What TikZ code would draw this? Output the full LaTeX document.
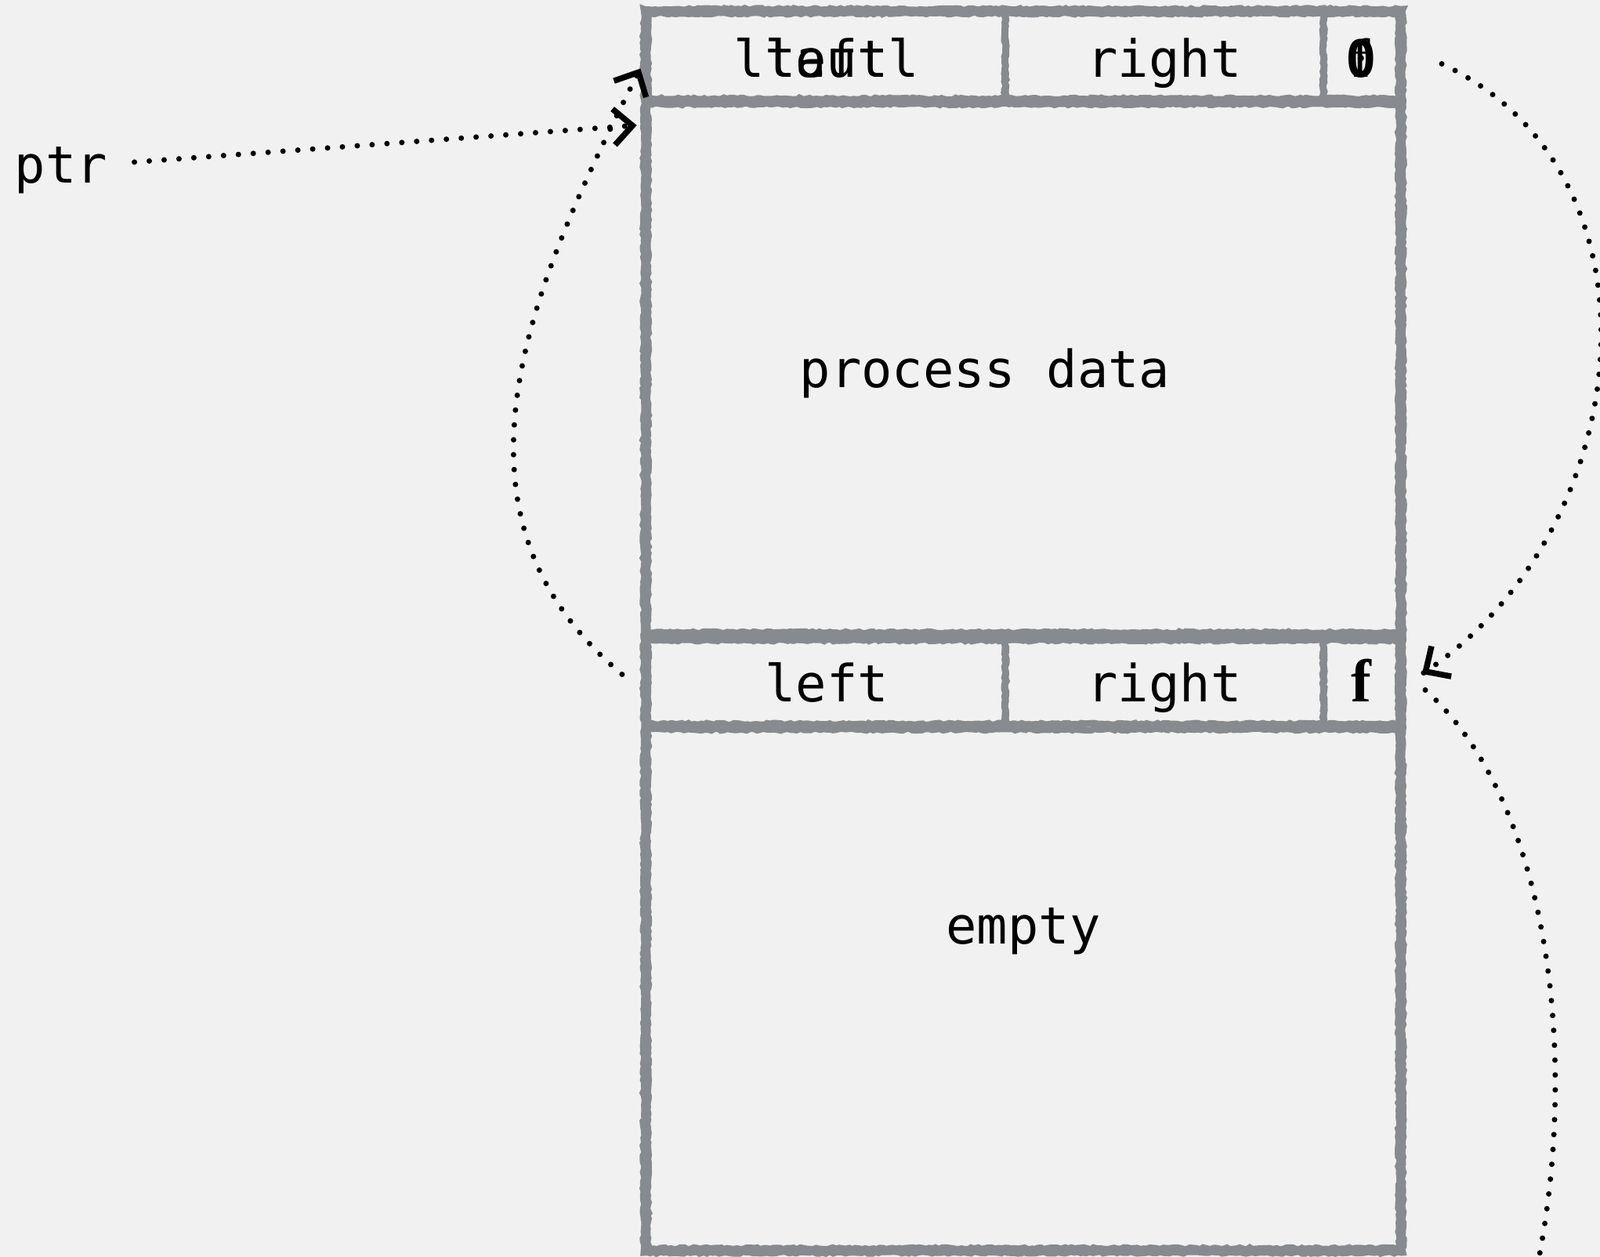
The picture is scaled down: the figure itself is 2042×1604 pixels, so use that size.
\documentclass[tikz,border=0pt]{standalone}
\usepackage{fontspec}
\setmainfont{Liberation Serif}
\setmonofont{DejaVu Sans Mono}
\usetikzlibrary{arrows.meta, decorations.pathmorphing, decorations.markings}
\definecolor{chalk}{HTML}{878A8E}
\definecolor{paper}{HTML}{F1F1F1}
\tikzset{
	block/.style={draw=chalk, line width=0.085cm, inner sep=0pt, outer sep=0pt,
		decorate, decoration={random steps, segment length=1.2pt, amplitude=0.35pt}},
	lbl/.style={font=\ttfamily\fontsize{18.6}{22}\selectfont, anchor=base, inner sep=0pt},
	flag/.style={font=\bfseries\fontsize{22}{24}\selectfont, anchor=base, inner sep=0pt},
	link/.style={line width=0.07cm, line cap=round, dash pattern=on 0pt off 0.19cm},
	tipped/.style={postaction={decorate, decoration={markings, mark=at position -0.3pt with
		{\pgfsetdash{}{0pt}\arrow{Straight Barb[length=0.24cm, width=0.46cm, line width=0.075cm]}}}}}
}

\begin{document}
\begin{tikzpicture}[x=0.01cm, y=0.01cm]
		\useasboundingbox (0,0) rectangle (2042,-1604);
		\clip (0,0) rectangle (2042,-1604);
		\fill[paper] (0,0) rectangle (2042,-1604);
		
		% outer frames
		\node[block, minimum width=9.68cm, minimum height=8cm] (frmA) at (1306,-412) {};
		\node[block, minimum width=9.68cm, minimum height=7.86cm] (frmB) at (1306,-1205) {};
		
		% first chunk
		\node[block, minimum width=4.56cm, minimum height=1.09cm] (lA) at (1055,-71.5) {};
		\node[block, minimum width=4.06cm, minimum height=1.09cm] (rA) at (1486,-71.5) {};
		\node[block, minimum width=0.96cm, minimum height=1.09cm] (fA) at (1737,-71.5) {};
		\node[block, minimum width=9.58cm, minimum height=6.74cm] (bodyA) at (1306,-470) {};
		
		\node[lbl] at ([yshift=-0.27cm]lA) {left};
		\node[lbl] at ([yshift=-0.27cm]lA) {ltautl};
		\node[lbl] at ([yshift=-0.27cm]rA) {right};
		\node[flag, font=\fontsize{20}{24}\selectfont] at ([yshift=-0.27cm]fA) {f};
		\node[lbl, font=\ttfamily\bfseries\fontsize{18.6}{22}\selectfont] at ([yshift=-0.27cm]fA) {0};
		\node[lbl] at ([shift={(-49,-25)}]bodyA) {process data};
		
		% second chunk
		\node[block, minimum width=4.56cm, minimum height=1.07cm] (lB) at (1055,-870.5) {};
		\node[block, minimum width=4.06cm, minimum height=1.07cm] (rB) at (1486,-870.5) {};
		\node[block, minimum width=0.96cm, minimum height=1.07cm] (fB) at (1737,-870.5) {};
		\node[block, minimum width=9.58cm, minimum height=6.62cm] (bodyB) at (1306,-1262) {};
		
		\node[lbl] at ([yshift=-0.25cm]lB) {left};
		\node[lbl] at ([yshift=-0.25cm]rB) {right};
		\node[flag] at ([yshift=-0.25cm]fB) {f};
		\node[lbl] at ([shift={(0,57)}]bodyB) {empty};
		
		\node[lbl, anchor=base west] (ptr) at (18,-234) {ptr};
		\coordinate (offB) at (1910,-1790);
		
		\draw[link, tipped] ([shift={(34,11)}]ptr.east) -- ([shift={(-13,-27)}]bodyA.north west);
		\draw[link, tipped] ([shift={(-33,10)}]lB.west) to[out=140, in=-117, looseness=1.05] ([shift={(-9,-15)}]lA.west);
		\draw[link, tipped] ([shift={(55,-10)}]fA.east) to[out=-25, in=33, looseness=1.08] ([shift={(29,10)}]fB.east);
		\draw[link] ([shift={(34,-10)}]fB.east) .. controls +(191,-170) and +(120,290) .. (offB);
	\end{tikzpicture}
\end{document}
